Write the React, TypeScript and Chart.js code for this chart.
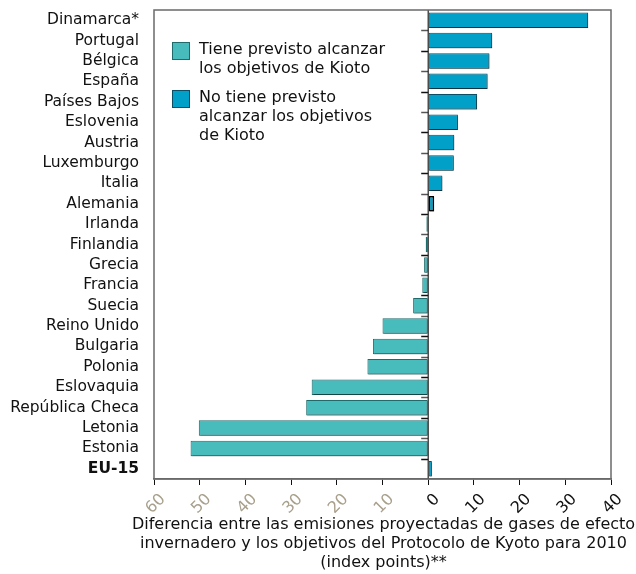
import React, { useEffect, useRef } from 'react';
import { Chart, registerables } from 'chart.js';

Chart.register(...registerables);

const categories = [
  'Dinamarca*', 'Portugal', 'Bélgica', 'España', 'Países Bajos', 'Eslovenia',
  'Austria', 'Luxemburgo', 'Italia', 'Alemania', 'Irlanda', 'Finlandia',
  'Grecia', 'Francia', 'Suecia', 'Reino Unido', 'Bulgaria', 'Polonia',
  'Eslovaquia', 'República Checa', 'Letonia', 'Estonia', 'EU-15',
];
const values = [
  35.0, 14.0, 13.4, 13.0, 10.7, 6.5,
  5.7, 5.6, 3.1, 1.3, -0.4, -0.55,
  -0.9, -1.3, -3.3, -10.0, -12.1, -13.3,
  -25.5, -26.7, -50.2, -52.0, 0.8,
];
const xTickValues = [-60, -50, -40, -30, -20, -10, 0, 10, 20, 30, 40];
const legendLabels = [
  ['Tiene previsto alcanzar', 'los objetivos de Kioto'],
  ['No tiene previsto', 'alcanzar los objetivos', 'de Kioto'],
];
const axisTitle = [
  'Diferencia entre las emisiones proyectadas de gases de efecto',
  'invernadero y los objetivos del Protocolo de Kyoto para 2010',
  '(index points)**',
];

const TEAL = '#48bbbd';
const TEAL_BORDER = '#1f6b6c';
const BLUE = '#00a0c8';
const BLUE_BORDER = '#0a4f66';
const FONT = '"DejaVu Sans", Verdana, sans-serif';

export default function App() {
  const ref = useRef<HTMLCanvasElement | null>(null);

  useEffect(() => {
    document.body.style.margin = '0';
    const canvas = ref.current;
    if (!canvas) return;

    const decorPlugin = {
      id: 'decor',
      beforeDatasetsDraw(chart: any) {
        const { ctx } = chart;
        ctx.save();
        ctx.shadowColor = 'rgba(0,0,0,0.35)';
        ctx.shadowOffsetX = 1;
        ctx.shadowOffsetY = 1;
        ctx.shadowBlur = 0;
      },
      afterDatasetsDraw(chart: any) {
        const { ctx, chartArea, scales } = chart;
        ctx.restore();
        const x0 = scales.x.getPixelForValue(0);
        const n = categories.length;
        const band = (chartArea.bottom - chartArea.top) / n;
        ctx.save();
        ctx.lineWidth = 1.5;
        for (let i = 1; i < n; i++) {
          const y = Math.round(chartArea.top + i * band) + 0.5;
          ctx.strokeStyle = i % 2 ? '#555' : '#111';
          ctx.beginPath();
          ctx.moveTo(x0 - 7, y);
          ctx.lineTo(x0, y);
          ctx.stroke();
        }
        ctx.strokeStyle = '#222';
        ctx.lineWidth = 1.2;
        ctx.beginPath();
        ctx.moveTo(x0, chartArea.top);
        ctx.lineTo(x0, chartArea.bottom);
        ctx.stroke();
        ctx.strokeStyle = '#6a6a6a';
        ctx.lineWidth = 1.5;
        ctx.strokeRect(chartArea.left, chartArea.top, chartArea.right - chartArea.left, chartArea.bottom - chartArea.top);
        // legend
        const boxes = [
          { y: 42, fill: TEAL, stroke: TEAL_BORDER },
          { y: 90, fill: BLUE, stroke: BLUE_BORDER },
        ];
        ctx.font = `16px ${FONT}`;
        ctx.textBaseline = 'middle';
        ctx.textAlign = 'left';
        boxes.forEach((b, i) => {
          ctx.fillStyle = b.fill;
          ctx.fillRect(172, b.y, 18, 18);
          ctx.strokeStyle = b.stroke;
          ctx.lineWidth = 1;
          ctx.strokeRect(172.5, b.y + 0.5, 17, 17);
          ctx.fillStyle = '#111';
          legendLabels[i].forEach((t, j) => {
            ctx.fillText(t, 199, b.y + 8 + j * 19);
          });
        });
        // axis title
        ctx.textAlign = 'center';
        const cx = (chartArea.left + chartArea.right) / 2 + 1;
        axisTitle.forEach((t, j) => {
          ctx.fillText(t, cx, 525 + j * 19);
        });
        ctx.restore();
      },
    };

    const chart = new Chart(canvas, {
      type: 'bar',
      data: {
        labels: categories,
        datasets: [
          {
            data: values,
            backgroundColor: values.map((v) => (v > 0 ? BLUE : TEAL)),
            borderColor: categories.map((c, i) =>
              c === 'Alemania' ? '#000' : values[i] > 0 ? BLUE_BORDER : TEAL_BORDER
            ),
            borderWidth: categories.map((c) => (c === 'Alemania' ? 1.5 : 1)),
            borderSkipped: false,
            barPercentage: 0.76,
            categoryPercentage: 1,
          },
        ],
      },
      options: {
        indexAxis: 'y',
        animation: false,
        responsive: false,
        devicePixelRatio: 1,
        layout: { padding: { top: 10, right: 25, left: 0, bottom: 0 } },
        plugins: { legend: { display: false }, tooltip: { enabled: false } },
        scales: {
          x: {
            type: 'linear',
            min: -60,
            max: 40,
            afterBuildTicks: (scale: any) => {
              scale.ticks = xTickValues.map((v) => ({ value: v }));
            },
            afterFit: (scale: any) => {
              scale.height = 95;
              scale.paddingLeft = 0;
              scale.paddingRight = 0;
            },
            grid: {
              drawOnChartArea: false,
              drawTicks: true,
              tickLength: 6,
              color: '#111',
            },
            border: { display: true, color: '#6a6a6a', width: 1.5 },
            ticks: {
              minRotation: 45,
              maxRotation: 45,
              padding: 5,
              labelOffset: 9,
              font: { family: FONT, size: 16 },
              color: (ctx: any) => (ctx.tick && ctx.tick.value < 0 ? '#a8a08c' : '#111'),
              callback: (v: any) => String(Math.abs(Number(v))),
            },
            title: { display: false },
          },
          y: {
            afterFit: (scale: any) => {
              scale.width = 154;
              scale.paddingTop = 0;
              scale.paddingBottom = 0;
            },
            grid: { display: false },
            border: { display: false },
            ticks: {
              autoSkip: false,
              padding: 7,
              color: '#111',
              font: (ctx: any) => ({
                family: FONT,
                size: 15.5,
                weight: ctx.tick && ctx.tick.label === 'EU-15' ? 'bold' : 'normal',
              }),
            },
          },
        },
      },
      plugins: [decorPlugin],
    });

    return () => chart.destroy();
  }, []);

  return (
    <div style={{ position: 'absolute', left: 0, top: 0, width: 636, height: 574, background: '#fff' }}>
      <canvas ref={ref} width={636} height={574} style={{ width: 636, height: 574, display: 'block' }} />
    </div>
  );
}
